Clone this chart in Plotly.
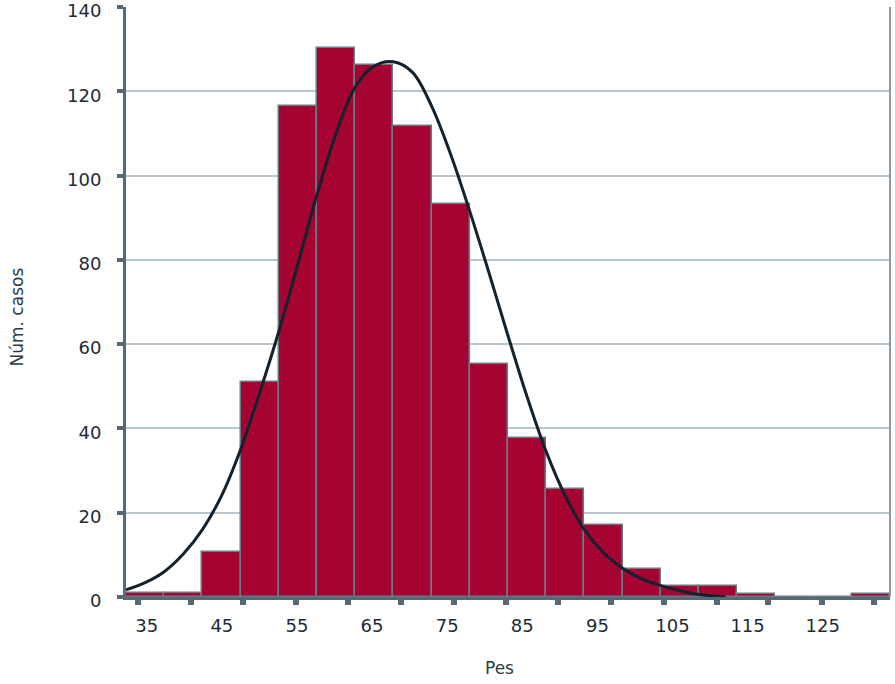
import plotly.graph_objects as go

# ---- data ----
bin_centers = [35, 40, 45, 50, 55, 60, 65, 70, 75, 80, 85, 90, 95, 100, 105, 110, 115, 120, 125, 130]
counts = [1, 1, 10.6, 51, 116.6, 130.2, 126.2, 111.7, 93.3, 55.2, 37.7, 25.6, 17.1, 6.6, 2.5, 2.5, 0.8, 0, 0, 0.8]

curve_x = [32.5, 35, 37.5, 40, 42.5, 45, 47.5, 50, 52.5, 55, 57.5, 60, 62.5, 65, 67.5, 70, 72.5,
           75, 77.5, 80, 82.5, 85, 87.5, 90, 92.5, 95, 97.5, 100, 102.5, 105, 107.5, 110, 111]
curve_y = [1.7, 3.4, 6.0, 10.2, 16.0, 24.0, 35.0, 48.5, 63.0, 79.0, 95.5, 110.0, 121.0, 126.0, 127.0,
           124.5, 116.5, 105.0, 91.5, 77.0, 62.0, 47.5, 34.5, 24.0, 16.0, 10.5, 6.8, 4.3, 2.7, 1.5, 0.6, 0.15, 0]

x_tick_marks = [34.1, 41.0, 47.8, 54.7, 61.6, 68.5, 75.4, 82.3, 89.1, 96.0, 102.9, 109.8, 116.5, 123.6, 130.4]
x_tick_labels = [35, 45, 55, 65, 75, 85, 95, 105, 115, 125]
y_ticks = [0, 20, 40, 60, 80, 100, 120, 140]

x_title = "Pes"
y_title = "Núm. casos"

# ---- styles ----
BAR = "#a50332"
BAR_LINE = "#6b7b86"
AXIS = "#566974"
GRID = "#bac6cd"
TEXT = "#1c2b36"
FONT = "DejaVu Sans"

fig = go.Figure()
fig.add_trace(go.Bar(x=bin_centers, y=counts, width=5, marker=dict(color=BAR, line=dict(color=BAR_LINE, width=1.5)),
                     showlegend=False, hoverinfo="skip"))
fig.add_trace(go.Scatter(x=curve_x, y=curve_y, mode="lines", line=dict(color="#13222d", width=3, shape="spline", smoothing=1),
                         showlegend=False, hoverinfo="skip"))
# invisible trace to activate overlay label axis
fig.add_trace(go.Scatter(x=[x_tick_labels[0]], y=[0], xaxis="x2", mode="markers", marker=dict(opacity=0),
                         showlegend=False, hoverinfo="skip"))

fig.update_layout(
    width=895, height=684,
    margin=dict(l=126, r=5, t=7, b=87),
    paper_bgcolor="white", plot_bgcolor="white",
    bargap=0,
    font=dict(family=FONT, color=TEXT, size=18),
    xaxis=dict(range=[32.5, 132.5], tickmode="array", tickvals=x_tick_marks, showticklabels=False,
               ticks="outside", ticklen=5, tickwidth=6, tickcolor=AXIS, automargin=False,
               showline=True, linecolor=AXIS, linewidth=3, showgrid=False, zeroline=False),
    xaxis2=dict(overlaying="x", anchor="y", side="bottom", range=[32.24, 133.96], tickmode="array",
                tickvals=x_tick_labels, ticktext=[str(v) for v in x_tick_labels], ticks="", ticklen=0,
                ticklabelstandoff=16, showline=False, showgrid=False, zeroline=False, automargin=False,
                ticklabeloverflow="allow", tickfont=dict(family=FONT, size=18, color=TEXT)),
    yaxis=dict(range=[0, 140], tickmode="array", tickvals=y_ticks, ticks="outside", ticklen=6, tickwidth=4,
               tickcolor=AXIS, showline=True, linecolor=AXIS, linewidth=3, showgrid=True, gridcolor=GRID,
               gridwidth=2, zeroline=False, ticklabelstandoff=12, ticklabelshift=4, automargin=False,
               ticklabeloverflow="allow", tickfont=dict(family=FONT, size=18, color=TEXT)),
    shapes=[dict(type="line", xref="paper", yref="paper", x0=1, x1=1, y0=0, y1=1,
                 line=dict(color="#8a9aa5", width=2))],
    annotations=[
        dict(text=x_title, xref="paper", yref="paper", x=0.4895, y=-0.1203, xanchor="center", yanchor="middle",
             showarrow=False, font=dict(family=FONT, size=17, color="#2a3a46")),
        dict(text=y_title, xref="paper", yref="paper", x=-0.143, y=0.475, xanchor="center", yanchor="middle",
             textangle=-90, showarrow=False, font=dict(family=FONT, size=17, color="#2a3a46")),
    ],
)

fig.write_html("out.html", config={"displayModeBar": False},
               post_script="document.body.style.margin='0px';")
